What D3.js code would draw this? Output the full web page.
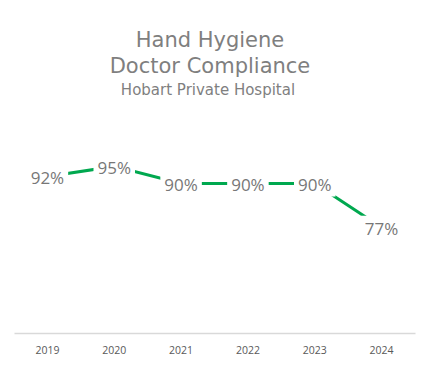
<!DOCTYPE html>
<html>
<head>
<meta charset="utf-8">
<script src="https://cdn.jsdelivr.net/npm/d3@7"></script>
<style>
  body { margin: 0; background: #fff; }
  svg { display: block; }
</style>
</head>
<body>
<div id="graph"></div>
<script>
var years = ['2019', '2020', '2021', '2022', '2023', '2024']
var compliance = [0.92, 0.95, 0.90, 0.90, 0.90, 0.77]
var titleLines = ['Hand Hygiene', 'Doctor Compliance']
var subtitle = 'Hobart Private Hospital'

var width = 424, height = 365

var svg = d3.select('#graph').append('svg')
  .attr('width', width)
  .attr('height', height)

var data = years.map((d, i) => ({year: d, value: compliance[i]}))

var x = d3.scaleBand().domain(years).range([14, 415])
var y = d3.scaleLinear().domain([0.46, 1]).range([333, 149.4])

var cx = d => x(d.year) + x.bandwidth()/2

// title
svg.selectAll('text.title').data(titleLines).join('text')
  .attr('class', 'title')
  .attr('x', 210)
  .attr('y', (d, i) => 47 + i*26)
  .attr('text-anchor', 'middle')
  .style('font-family', 'DejaVu Sans')
  .style('font-size', '21px')
  .style('fill', '#7f7f7f')
  .text(d => d)

svg.append('text')
  .attr('x', 208)
  .attr('y', 95)
  .attr('text-anchor', 'middle')
  .style('font-family', 'DejaVu Sans')
  .style('font-size', '15px')
  .style('fill', '#7f7f7f')
  .text(subtitle)

// x axis
var xAxis = svg.append('g')
  .attr('transform', 'translate(0,333)')
  .call(d3.axisBottom(x).tickSize(0).tickPadding(14))

xAxis.select('.domain').attr('stroke', '#d9d9d9').attr('stroke-width', 1.5)
xAxis.selectAll('text')
  .style('font-family', 'Open Sans')
  .style('font-size', '10.5px')
  .style('fill', '#595959')

// line
var line = d3.line().x(cx).y(d => y(d.value))

svg.append('path')
  .attr('d', line(data))
  .attr('fill', 'none')
  .attr('stroke', '#00a84f')
  .attr('stroke-width', 3)

// value labels, white box behind each one cuts the line
var labels = svg.selectAll('g.label').data(data).join('g')
  .attr('class', 'label')
  .attr('transform', d => 'translate(' + cx(d) + ',' + y(d.value) + ')')

var labelText = labels.append('text')
  .attr('text-anchor', 'middle')
  .attr('dy', '0.42em')
  .style('font-family', 'Open Sans')
  .style('font-size', '17px')
  .style('fill', '#777777')
  .text(d => d3.format('.0%')(d.value))

labels.each(function(){
  var g = d3.select(this)
  var bb = g.select('text').node().getBBox()
  g.insert('rect', 'text')
    .attr('x', bb.x - 4)
    .attr('y', bb.y - 1)
    .attr('width', bb.width + 8)
    .attr('height', bb.height + 2)
    .attr('fill', '#fff')
})
</script>
</body>
</html>
